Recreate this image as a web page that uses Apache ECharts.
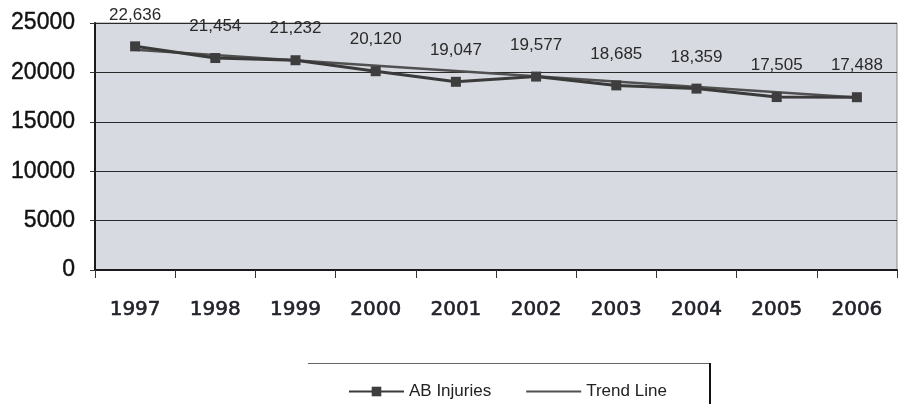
<!DOCTYPE html>
<html>
<head>
<meta charset="utf-8">
<script src="https://cdn.jsdelivr.net/npm/echarts@6/dist/echarts.min.js"></script>
<style>
  html, body { margin: 0; padding: 0; background: #fff; }
  #main { width: 900px; height: 404px; }
</style>
</head>
<body>
<div id="main"></div>
<script>
// AB injuries per year, with trend line
const years = ['1997', '1998', '1999', '2000', '2001', '2002', '2003', '2004', '2005', '2006'];
const injuries = [22636, 21454, 21232, 20120, 19047, 19577, 18685, 18359, 17505, 17488];
// trend line: only its two ends
const trend = [22300, null, null, null, null, null, null, null, null, 17450];
const yTicks = [0, 5000, 10000, 15000, 20000, 25000];

const myChart = echarts.init(document.getElementById('main'));

const option = {
    backgroundColor: '#fff',
    animation: false,
    grid: {
        left: 95,
        right: 3,
        top: 23,
        bottom: 134,
        show: true,
        backgroundColor: '#d7dae0',
        borderColor: '#8a8a8a',
        borderWidth: 1
    },
    legend: {
        left: 343,
        top: 378,
        itemGap: 34,
        itemWidth: 55,
        itemHeight: 12,
        textStyle: { fontFamily: 'Liberation Sans', fontSize: 17, color: '#222' },
        data: [
            { name: 'AB Injuries' },
            { name: 'Trend Line', itemStyle: { opacity: 0 } }
        ]
    },
    xAxis: {
        type: 'category',
        data: years,
        boundaryGap: true,
        axisLine: { lineStyle: { color: '#1a1a1a', width: 2 } },
        axisTick: { show: true, length: 8, lineStyle: { color: '#333' } },
        axisLabel: {
            margin: 30,
            fontFamily: 'DejaVu Sans',
            fontSize: 20,
            color: '#22222a',
            textBorderColor: '#22222a',
            textBorderWidth: 0.6
        }
    },
    yAxis: {
        type: 'value',
        min: yTicks[0],
        max: yTicks[yTicks.length - 1],
        interval: 5000,
        axisLine: { show: true, lineStyle: { color: '#1a1a1a', width: 2 } },
        axisTick: { show: true, length: 5, lineStyle: { color: '#333' } },
        splitLine: { lineStyle: { color: '#2a2a2a', width: 1 } },
        axisLabel: {
            margin: 20,
            fontFamily: 'Liberation Sans',
            fontSize: 23,
            color: '#111',
            textBorderColor: '#111',
            textBorderWidth: 0.4,
            formatter: v => String(v)
        }
    },
    series: [
        {
            name: 'Trend Line',
            type: 'line',
            data: trend,
            connectNulls: true,
            symbol: 'none',
            lineStyle: { color: '#505050', width: 2.5 },
            itemStyle: { color: '#505050' },
            z: 2
        },
        {
            name: 'AB Injuries',
            type: 'line',
            data: injuries,
            symbol: 'rect',
            symbolSize: 10,
            lineStyle: { color: '#3a3a3a', width: 3 },
            itemStyle: { color: '#3e3e3e' },
            label: {
                show: true,
                position: 'top',
                distance: 18,
                fontFamily: 'Liberation Sans',
                fontSize: 17,
                color: '#2a2a2a',
                formatter: p => p.value.toLocaleString('en-US')
            },
            z: 3
        }
    ],
    graphic: [
        {
            type: 'line',
            shape: { x1: 308, y1: 363.5, x2: 711, y2: 363.5 },
            style: { stroke: '#666', lineWidth: 1 }
        },
        {
            type: 'line',
            shape: { x1: 710, y1: 363, x2: 710, y2: 404 },
            style: { stroke: '#111', lineWidth: 2 }
        }
    ]
};

myChart.setOption(option);
</script>
</body>
</html>
